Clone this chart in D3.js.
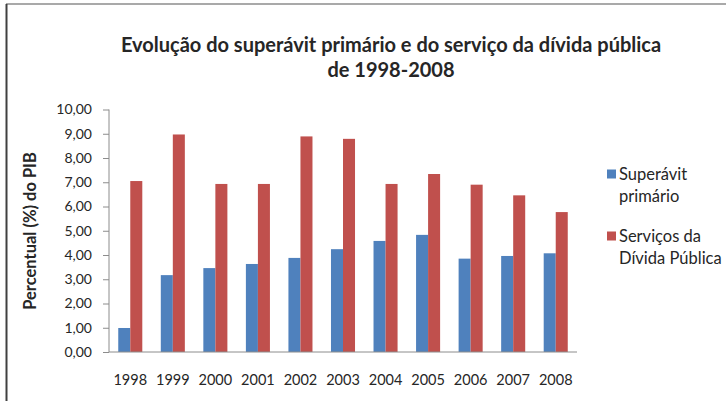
<!DOCTYPE html>
<html>
<head>
<meta charset="utf-8">
<script src="https://cdn.jsdelivr.net/npm/d3@7"></script>
<style>
  body { margin: 0; background: #fff; }
  text { font-family: Lato, "Open Sans", sans-serif; fill: #262626; }
</style>
</head>
<body>
<div id="chart"></div>
<script>
var anos = ["1998","1999","2000","2001","2002","2003","2004","2005","2006","2007","2008"];
var superavit = [0.99, 3.17, 3.46, 3.63, 3.88, 4.24, 4.58, 4.83, 3.85, 3.96, 4.07];
var servico = [7.05, 8.97, 6.93, 6.93, 8.89, 8.79, 6.93, 7.34, 6.90, 6.46, 5.77];
var yTicks = [0,1,2,3,4,5,6,7,8,9,10];
var series = [
  {name: ["Superávit", "primário"], values: superavit, color: "#4F81BD"},
  {name: ["Serviços da", "Dívida Pública"], values: servico, color: "#C0504D"}
];

var width = 726, height = 401;
var margin = {top: 109, right: 150, bottom: 49, left: 109};

var svg = d3.select("#chart").append("svg")
  .attr("width", width)
  .attr("height", height);

// moldura
svg.append("line").attr("x1", 6).attr("x2", width).attr("y1", 4).attr("y2", 4)
  .attr("stroke", "#8c8c8c").attr("stroke-width", 1.5);
svg.append("line").attr("x1", 6.5).attr("x2", 6.5).attr("y1", 4).attr("y2", height)
  .attr("stroke", "#404040").attr("stroke-width", 2);

var x = d3.scaleBand().domain(anos).range([margin.left, 577]);
var xs = d3.scaleBand().domain([0, 1]).range([9.25, x.bandwidth() - 9.25]);
var y = d3.scaleLinear().domain([0, 10]).range([352, 109.5]);

// titulo
svg.append("text").attr("x", 391).attr("y", 52).attr("text-anchor", "middle")
  .style("font-weight", "bold").style("font-size", "20px")
  .text("Evolução do superávit primário e do serviço da dívida pública");
svg.append("text").attr("x", 391).attr("y", 77).attr("text-anchor", "middle")
  .style("font-weight", "bold").style("font-size", "20px")
  .text("de 1998-2008");

// barras
var g = svg.append("g");
series.forEach(function(s, si) {
  g.selectAll(".b" + si).data(s.values).enter()
    .append("rect")
    .attr("x", function(d, i) { return x(anos[i]) + xs(si); })
    .attr("width", xs.bandwidth())
    .attr("y", function(d) { return y(d); })
    .attr("height", function(d) { return y(0) - y(d); })
    .attr("fill", s.color);
});

// eixo y
var yAxis = svg.append("g").attr("transform", "translate(" + margin.left + ",0)")
  .call(d3.axisLeft(y).tickValues(yTicks).tickSize(6).tickPadding(11)
    .tickFormat(function(d) { return d3.format(".2f")(d).replace(".", ","); }));
yAxis.selectAll("path, line").attr("stroke", "#8c8c8c");
yAxis.select(".domain").attr("d", "M0," + y(10) + "V" + y(0));
yAxis.selectAll("text").style("font-size", "14px").attr("fill", "#262626");

// eixo x
var xAxis = svg.append("g").attr("transform", "translate(0," + y(0) + ")")
  .call(d3.axisBottom(x).tickSize(0).tickPadding(23));
xAxis.select(".domain").attr("stroke", "#8c8c8c").attr("d", "M" + margin.left + ",0H577");
xAxis.selectAll("text").style("font-size", "14.5px").attr("fill", "#262626");

svg.append("text")
  .attr("transform", "translate(30,231) rotate(-90)")
  .attr("dy", "0.35em")
  .attr("text-anchor", "middle")
  .style("font-weight", "bold").style("font-size", "16.5px")
  .text("Percentual (%) do PIB");

// legenda
var leg = svg.append("g");
var legY = [174, 236];
series.forEach(function(s, si) {
  leg.append("rect").attr("x", 607).attr("y", legY[si] - 4.5).attr("width", 9).attr("height", 9)
    .attr("fill", s.color);
  s.name.forEach(function(t, li) {
    leg.append("text").attr("x", 619).attr("y", legY[si] + li * 22).attr("dy", "0.35em")
      .style("font-size", "16.5px").text(t);
  });
});
</script>
</body>
</html>
